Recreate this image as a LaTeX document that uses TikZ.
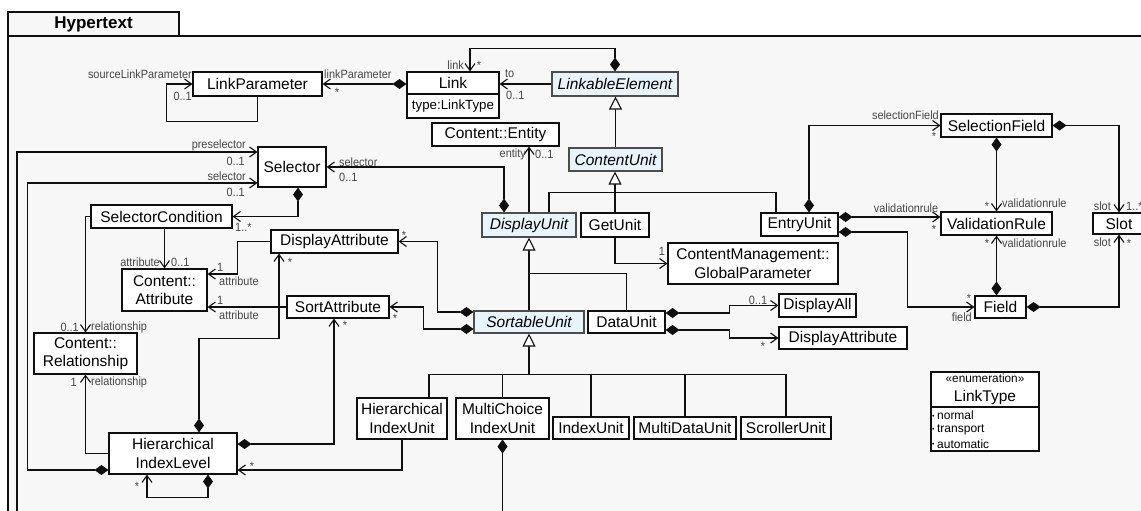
\documentclass[tikz,border=0pt]{standalone}
\usepackage{fontspec}
\setmainfont{Liberation Sans}
\newfontfamily\lblfamily[FakeStretch=0.91]{Liberation Sans}
\usetikzlibrary{arrows.meta,calc}
\definecolor{framebg}{RGB}{247,247,247}
\definecolor{bluebox}{RGB}{232,244,252}
\definecolor{lblgray}{RGB}{70,70,70}
\definecolor{linec}{RGB}{15,15,15}
\newcommand\bxfont{\fontsize{15.5}{18.5}\selectfont}
\newcommand\lbfont{\lblfamily\fontsize{12}{13}\selectfont}
\begin{document}
\begin{tikzpicture}[x=1pt,y=-1pt,
  box/.style={draw=linec, line width=1.1pt, fill=white, inner sep=0pt, font=\bxfont, align=center},
  abox/.style={box, fill=bluebox, draw=black!70, font=\bxfont\itshape},
  lbl/.style={inner sep=0pt, text=lblgray, font=\lbfont},
  con/.style={draw=linec, line width=1.1pt},
  assoc/.style={con, -{Straight Barb[length=7pt,width=10pt]}},
  comp/.style={con, {Diamond[length=14pt,width=10pt]}-{Straight Barb[length=7pt,width=10pt]}},
  compx/.style={con, {Diamond[length=14pt,width=10pt]}-},
  gen/.style={con, -{Triangle[open,length=13pt,width=13pt,fill=white]}},
]
\useasboundingbox (0,0) rectangle (1141,511);
\fill[white] (0,0) rectangle (1141,511);
% package frame
\draw[fill=framebg, draw=linec, line width=1.1pt] (8,36) rectangle (1170,540);
\node[draw=linec, line width=1.1pt, fill=framebg, minimum width=171, minimum height=24, inner sep=0pt,
      font=\fontsize{17}{20}\selectfont\bfseries] (tab) at (93.5,24) {Hypertext};

% classes
\node[box, minimum width=129, minimum height=24] (LP) at (257.5,84) {LinkParameter};
\node[box, minimum width=92, minimum height=22] (Link) at (453,83) {Link};
\node[box, minimum width=92, minimum height=24, font=\fontsize{13.3}{16}\selectfont] (LinkA) at (453,106) {type:LinkType};
\node[abox, minimum width=126, minimum height=24] (LE) at (615,84) {LinkableElement};
\node[box, minimum width=127, minimum height=23] (CE) at (495.5,134.5) {Content::Entity};
\node[abox, minimum width=93, minimum height=23] (CU) at (615.5,159.5) {ContentUnit};
\node[box, minimum width=68, minimum height=40] (Sel) at (292,167) {Selector};
\node[box, minimum width=141, minimum height=23] (SC) at (161.5,216.5) {SelectorCondition};
\node[box, minimum width=127, minimum height=23] (DAL) at (334.5,241.5) {DisplayAttribute};
\node[box, minimum width=85, minimum height=42] (CA) at (164.5,290) {Content::\\Attribute};
\node[box, minimum width=102, minimum height=22] (SA) at (338,307) {SortAttribute};
\node[box, minimum width=103, minimum height=41] (CR) at (85.5,353.5) {Content::\\Relationship};
\node[box, minimum width=128, minimum height=41] (HIL) at (173,453.5) {Hierarchical\\IndexLevel};
\node[abox, minimum width=94, minimum height=24] (DU) at (529,225) {DisplayUnit};
\node[box, minimum width=68, minimum height=24] (GetU) at (615,225) {GetUnit};
\node[box, minimum width=77, minimum height=23] (EU) at (799.5,224.5) {EntryUnit};
\node[box, minimum width=170, minimum height=41] (GP) at (753,263.5) {ContentManagement::\\GlobalParameter};
\node[abox, minimum width=110, minimum height=22] (SU) at (529,322) {SortableUnit};
\node[box, minimum width=77, minimum height=22] (DataU) at (626.5,322) {DataUnit};
\node[box, minimum width=77, minimum height=23] (DAll) at (817.5,305.5) {DisplayAll};
\node[box, minimum width=128, minimum height=22] (DAR) at (843,338) {DisplayAttribute};
\node[box, minimum width=111, minimum height=23] (SF) at (996.5,125.5) {SelectionField};
\node[box, minimum width=111, minimum height=23] (VR) at (996.5,223.5) {ValidationRule};
\node[box, minimum width=52, minimum height=21] (Slot) at (1119,223.5) {Slot};
\node[box, minimum width=51, minimum height=22] (Field) at (1000.5,307) {Field};
\node[box, minimum width=90, minimum height=41] (HIU) at (402,418.5) {Hierarchical\\IndexUnit};
\node[box, minimum width=93, minimum height=41] (MCIU) at (502.5,418.5) {MultiChoice\\IndexUnit};
\node[box, minimum width=76, minimum height=22] (IU) at (591,428) {IndexUnit};
\node[box, minimum width=102, minimum height=22] (MDU) at (685,428) {MultiDataUnit};
\node[box, minimum width=90, minimum height=22] (ScrU) at (786,428) {ScrollerUnit};

% enumeration LinkType
\node[box, minimum width=108, minimum height=35] (LT) at (985,389.5) {};
\node[inner sep=0pt, font=\fontsize{11.8}{13}\selectfont] (LTst) at (985,378.5) {«enumeration»};
\node[inner sep=0pt, font=\bxfont] (LTname) at (985,397.5) {LinkType};
\node[box, minimum width=108, minimum height=44] (LTi) at (985,429) {};
\node[anchor=west, inner sep=0pt, font=\fontsize{12}{14}\selectfont] (it1) at (932,415.5) {\raisebox{1.5pt}{\fontsize{7}{7}\selectfont•}\hspace{2.5pt}normal};
\node[anchor=west, inner sep=0pt, font=\fontsize{12}{14}\selectfont] (it2) at (932,430) {\raisebox{1.5pt}{\fontsize{7}{7}\selectfont•}\hspace{2.5pt}transport};
\node[anchor=west, inner sep=0pt, font=\fontsize{12}{14}\selectfont] (it3) at (932,444) {\raisebox{1.5pt}{\fontsize{7}{7}\selectfont•}\hspace{2.5pt}automatic};

% free ends
\coordinate (preSrc) at (17,540);
\coordinate (cuBus) at ($(CU.south)+(0,21)$);
\coordinate (duBus) at ($(DU.south)+(0,36)$);
\coordinate (suBus) at ($(SU.south)+(0,41)$);
\coordinate (mcSink) at ($(MCIU.south)+(0,90)$);

% generalizations
\draw[gen] (CU.north) -- (CU.north |- LE.south);
\draw[gen] (GetU.north) -- (GetU.north |- CU.south);
\draw[con] ($(DU.north)+(20,0)$) |- (cuBus) -| ($(EU.north)+(-23.5,0)$);
\draw[gen] (SU.north) -- (DU.south);
\draw[con] (DataU.north) |- (duBus);
\draw[gen] (suBus) -- (SU.south);
\draw[con] ($(HIU.north)+(27,0)$) |- (suBus) -| (ScrU.north);
\draw[con] (MCIU.north) -- (MCIU.north |- suBus);
\draw[con] (IU.north) -- (IU.north |- suBus);
\draw[con] (MDU.north) -- (MDU.north |- suBus);

% associations
\draw[assoc] (LP.south) -- ++(0,25) -- ++(-91,0) |- (LP.west);
\draw[comp] (LP.east -| Link.west) -- (LP.east);
\draw[assoc] (LE.west) -- (LE.west -| Link.east);
\draw[comp] (LE.north) |- ($(Link.north)+(17,-23)$) -- ($(Link.north)+(17,0)$);
\draw[assoc] (DU.north) -- (DU.north |- CE.south);
\draw[comp] ($(DU.north)+(-25,0)$) |- (Sel.east);
\draw[comp] ($(Sel.south)+(6,0)$) |- (SC.east);
\draw[assoc] (SC.west) -| (CR.north);
\draw[assoc] (CA.north |- SC.south) -- (CA.north);
\draw[assoc] (DAL.west) -- ++(-33,0) |- ($(CA.east)+(0,-16)$);
\draw[assoc] (SA.west) -- (SA.west -| CA.east);
\draw[comp] ($(SU.west)+(0,-10)$) -- ++(-36,0) |- (DAL.east);
\draw[comp] ($(SU.west)+(0,7)$) -- ++(-50,0) |- (SA.east);
\draw[comp] ($(HIL.north)+(26,0)$) -- ++(0,-94) -| ($(DAL.south)+(-55.5,0)$);
\draw[comp] ($(HIL.east)+(0,-9.5)$) -| ($(SA.south)+(-4,0)$);
\draw[assoc] (HIL.west) -| (CR.south);
\draw[comp] ($(HIL.west)+(0,16.5)$) -- ++(-81,0) |- ($(Sel.west)+(0,16)$);
\draw[assoc] (preSrc) |- ($(Sel.west)+(0,-15)$);
\draw[comp] ($(HIL.south)+(35,0)$) -- ++(0,23) -| ($(HIL.south)+(-26,0)$);
\draw[assoc] (HIU.south) |- ($(HIL.east)+(0,16.5)$);
\draw[compx] (MCIU.south) -- (mcSink);
\draw[assoc] (GetU.south) |- (GP.west);
\draw[comp] ($(DataU.east)+(0,-9)$) -- ++(64,0) |- (DAll.west);
\draw[comp] ($(DataU.east)+(0,8)$) -- ++(64,0) |- (DAR.west);
\draw[comp] ($(EU.north)+(9.5,0)$) |- (SF.west);
\draw[comp] ($(EU.east)+(0,-7.5)$) -- ($(VR.west)+(0,-6.5)$);
\draw[comp] ($(EU.east)+(0,7.5)$) -- ++(69,0) |- (Field.west);
\draw[comp] (SF.south) -- (VR.north);
\draw[comp] (Field.north -| VR.south) -- (VR.south);
\draw[comp] (SF.east) -| (Slot.north);
\draw[comp] (Field.east) -| (Slot.south);

% role / multiplicity labels
\node[lbl, anchor=east] (l1) at (192,74) {sourceLinkParameter};
\node[lbl, anchor=east] (l2) at (192,96.5) {0..1};
\node[lbl, anchor=west] (l3) at (324,74) {linkParameter};
\node[lbl] (l4) at (337,92) {*};
\node[lbl, anchor=east] (l5) at (464,65) {link};
\node[lbl] (l6) at (479,65) {*};
\node[lbl, anchor=west] (l7) at (505,74) {to};
\node[lbl, anchor=west] (l8) at (506,95) {0..1};
\node[lbl, anchor=east] (l9) at (526,154) {entity};
\node[lbl, anchor=west] (l10) at (535,154) {0..1};
\node[lbl, anchor=east] (l11) at (246,145) {preselector};
\node[lbl, anchor=east] (l12) at (245,161) {0..1};
\node[lbl, anchor=east] (l13) at (246,176) {selector};
\node[lbl, anchor=east] (l14) at (245,192) {0..1};
\node[lbl, anchor=west] (l15) at (339,162) {selector};
\node[lbl, anchor=west] (l16) at (339,177) {0..1};
\node[lbl, anchor=west] (l17) at (235,227) {1..*};
\node[lbl, anchor=east] (l18) at (160,262) {attribute};
\node[lbl, anchor=west] (l19) at (171,262) {0..1};
\node[lbl, anchor=east] (l20) at (79,327) {0..1};
\node[lbl, anchor=west] (l21) at (91,327) {relationship};
\node[lbl, anchor=west] (l22) at (217,267) {1};
\node[lbl, anchor=west] (l23) at (219,281) {attribute};
\node[lbl, anchor=west] (l24) at (217,300) {1};
\node[lbl, anchor=west] (l25) at (219,315) {attribute};
\node[lbl] (l26) at (404,235) {*};
\node[lbl] (l27) at (395,318) {*};
\node[lbl] (l28) at (290,262) {*};
\node[lbl] (l29) at (345,325) {*};
\node[lbl, anchor=east] (l30) at (77,382) {1};
\node[lbl, anchor=west] (l31) at (91,382) {relationship};
\node[lbl] (l32) at (137,486) {*};
\node[lbl] (l33) at (252,466) {*};
\node[lbl] (l34) at (662,251) {1};
\node[lbl] (l35) at (758,300) {0..1};
\node[lbl] (l36) at (763,346) {*};
\node[lbl, anchor=east] (l37) at (939,115) {selectionField};
\node[lbl] (l38) at (934,136) {*};
\node[lbl] (l39) at (987,206) {*};
\node[lbl, anchor=west] (l40) at (1002,203) {validationrule};
\node[lbl] (l41) at (906,208) {validationrule};
\node[lbl] (l42) at (934,229) {*};
\node[lbl] (l43) at (987,243) {*};
\node[lbl, anchor=west] (l44) at (1002,243) {validationrule};
\node[lbl, anchor=east] (l45) at (1111,206) {slot};
\node[lbl, anchor=west] (l46) at (1126,206) {1..*};
\node[lbl, anchor=east] (l47) at (1111,242) {slot};
\node[lbl] (l48) at (1129,243) {*};
\node[lbl] (l49) at (969,298) {*};
\node[lbl, anchor=east] (l50) at (972,317) {field};
\end{tikzpicture}
\end{document}
